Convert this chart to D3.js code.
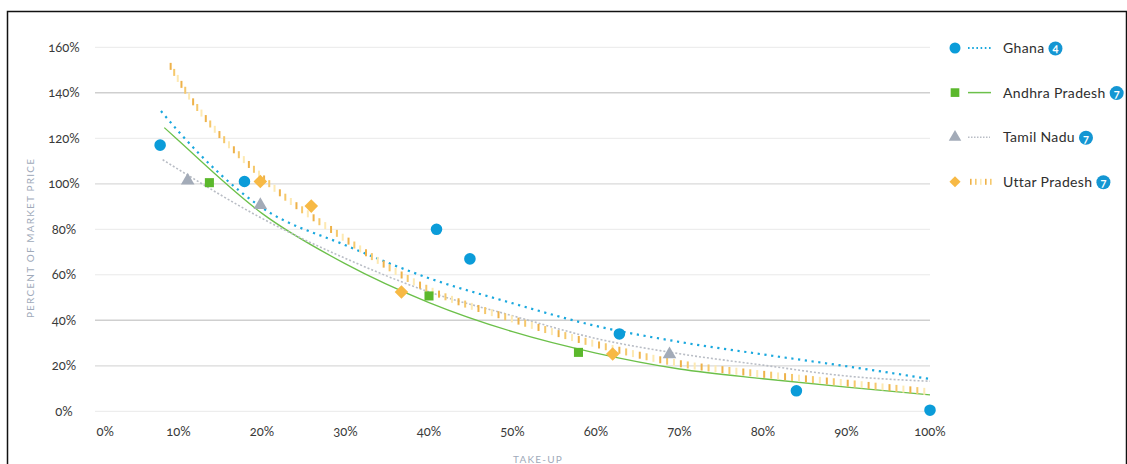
<!DOCTYPE html>
<html><head><meta charset="utf-8">
<script src="https://cdn.jsdelivr.net/npm/d3@7"></script>
<style>
html,body{margin:0;padding:0;background:#fff;}
svg{display:block;font-family:"Lato","Open Sans",sans-serif;font-feature-settings:"onum" 1;}
</style></head>
<body><svg id="c" width="1127" height="464"></svg>
<script>
// ---- data ----
const xTicks = [0,10,20,30,40,50,60,70,80,90,100];
const yTicks = [0,20,40,60,80,100,120,140,160];

const seriesNames = ["Ghana","Andhra Pradesh","Tamil Nadu","Uttar Pradesh"];
const seriesCounts = [4,7,7,7];

const ghanaX = [7.8,17.9,40.9,44.9,62.8,84.0,100];
const ghanaY = [117,101,80,67,34,9,0.5];
const andhraX = [13.7,40.0,57.9];
const andhraY = [100.5,50.7,25.9];
const tamilX = [11.1,19.8,68.8];
const tamilY = [101,90.2,24.6];
const uttarX = [19.8,25.9,36.7,62.0];
const uttarY = [101,90.2,52.4,25.2];

// trend lines
const ghanaTrendX = [7.9,10,20,30,40,50,60,70,80,90,100];
const ghanaTrendY = [132,123,89.5,73,58.5,47.5,37.5,30.5,25,19.8,14.2];
const andhraTrendX = [8.3,10,20,30,40,50,60,70,80,90,100];
const andhraTrendY = [124.7,119,87,64.8,47.8,35,25.6,18.6,14.3,10.6,7.2];
const tamilTrendX = [8.1,10,20,30,40,50,60,70,80,90,100];
const tamilTrendY = [110.6,106.3,84.8,67.2,52.5,42,32,25.3,20.3,15.5,13.2];
const uttarTrendX = [9.0,10,20,30,40,50,60,70,80,90,100];
const uttarTrendY = [152,145.8,103,75.7,53.5,40.5,29.5,21,16.3,12.4,8.5];

// ---- drawing ----
const svg = d3.select("#c");
const x = d3.scaleLinear().domain([0,100]).range([95,930]);
const y = d3.scaleLinear().domain([0,160]).range([411.3,47.3]);

const C = {blue:"#0b9cd9", blueLine:"#1aa8de", green:"#5bb82c", greenLine:"#6cc04a",
           grey:"#a3abb8", greyLine:"#b9bdc5", orange:"#f7b945"};

// frame
svg.append("path").attr("d","M7.5,464 V11.5 H1126.5 V464")
  .attr("fill","none").attr("stroke","#111").attr("stroke-width",1.5);

// gridlines
const gridStyle = v => (v===140||v===40) ? ["#cfcfcf",1.6] : (v===100||v===20) ? ["#dadada",1.3] : ["#e9e9e9",1];
svg.append("g").selectAll("line").data(yTicks).join("line")
  .attr("x1",x(0)).attr("x2",x(100))
  .attr("y1",d=>y(d)).attr("y2",d=>y(d))
  .attr("stroke",d=>gridStyle(d)[0]).attr("stroke-width",d=>gridStyle(d)[1]);

// y tick labels
svg.append("g").selectAll("text").data(yTicks).join("text")
  .attr("x",64).attr("y",d=>y(d)).attr("dy","0.35em")
  .attr("text-anchor","middle").attr("font-size",13).attr("fill","#3a3a3a")
  .text(d=>d+"%");

// x tick labels
svg.append("g").selectAll("text").data(xTicks).join("text")
  .attr("x",d=> d===0 ? x(d)+1.5 : x(d)).attr("y",436)
  .attr("text-anchor",d=> d===0 ? "start" : "middle").attr("font-size",13).attr("fill","#3a3a3a")
  .text(d=>d+"%");

// axis titles
svg.append("text").attr("transform","translate(34,238) rotate(-90)")
  .attr("text-anchor","middle").attr("font-size",10).attr("letter-spacing",1.2)
  .attr("fill","#a0aaba").text("PERCENT OF MARKET PRICE");
svg.append("text").attr("x",538).attr("y",463)
  .attr("text-anchor","middle").attr("font-size",10).attr("letter-spacing",1.2)
  .attr("fill","#a0aaba").text("TAKE-UP");

const line = d3.line().x(d=>x(d[0])).y(d=>y(d[1])).curve(d3.curveMonotoneX);
const zip = (a,b)=>a.map((v,i)=>[v,b[i]]);

const plot = svg.append("g");
// Andhra solid
plot.append("path").attr("d",line(zip(andhraTrendX,andhraTrendY)))
  .attr("fill","none").attr("stroke",C.greenLine).attr("stroke-width",1.3);
// Tamil dashed
plot.append("path").attr("d",line(zip(tamilTrendX,tamilTrendY)))
  .attr("fill","none").attr("stroke",C.greyLine).attr("stroke-width",1.6).attr("stroke-dasharray","2,2");
// Ghana dotted
plot.append("path").attr("d",line(zip(ghanaTrendX,ghanaTrendY)))
  .attr("fill","none").attr("stroke",C.blueLine).attr("stroke-width",2.2).attr("stroke-dasharray","2.2,4.6");
// Uttar vertical bars along path
const up = plot.append("path").attr("d",line(zip(uttarTrendX,uttarTrendY)))
  .attr("fill","none").attr("stroke","none");
const barCols = ["#eeb24a","#f5c86c","#fde9b2"];
const L = up.node().getTotalLength();
const bars = [];
for(let s=1; s<L; s+=7){ const p = up.node().getPointAtLength(s); bars.push([p.x,p.y]); }
plot.append("g").selectAll("rect").data(bars).join("rect")
  .attr("x",d=>d[0]-1).attr("y",d=>d[1]-3.5).attr("width",2).attr("height",7)
  .attr("fill",(d,i)=>barCols[i%3]);

// markers
const sym = (type,size)=>d3.symbol().type(type).size(size)();
const marks = svg.append("g");
marks.selectAll(".g").data(zip(ghanaX,ghanaY)).join("path")
  .attr("transform",d=>`translate(${x(d[0])},${y(d[1])})`).attr("d",sym(d3.symbolCircle,105)).attr("fill",C.blue);
marks.selectAll(".a").data(zip(andhraX,andhraY)).join("path")
  .attr("transform",d=>`translate(${x(d[0])},${y(d[1])})`).attr("d",sym(d3.symbolSquare,82)).attr("fill",C.green);
marks.selectAll(".t").data(zip(tamilX,tamilY)).join("path")
  .attr("transform",d=>`translate(${x(d[0])},${y(d[1])-1})`).attr("d",sym(d3.symbolTriangle,80)).attr("fill",C.grey);
marks.selectAll(".u").data(zip(uttarX,uttarY)).join("path")
  .attr("transform",d=>`translate(${x(d[0])},${y(d[1])}) rotate(45)`).attr("d",sym(d3.symbolSquare,92)).attr("fill",C.orange);

// legend
const lg = svg.append("g");
const ly = i => 48 + i*44.6;
const markerTypes = [[d3.symbolCircle,95,C.blue,0],[d3.symbolSquare,75,C.green,0],[d3.symbolTriangle,68,C.grey,0],[d3.symbolSquare,62,C.orange,45]];
seriesNames.forEach((name,i)=>{
  const g = lg.append("g");
  const m = markerTypes[i];
  g.append("path").attr("transform",`translate(955,${ly(i)}) rotate(${m[3]})`).attr("d",sym(m[0],m[1])).attr("fill",m[2]);
  if(i===0){
    g.append("line").attr("x1",968).attr("x2",991).attr("y1",ly(i)).attr("y2",ly(i))
      .attr("stroke",C.blueLine).attr("stroke-width",1.8).attr("stroke-dasharray","1.6,2.6");
  } else if(i===1){
    g.append("line").attr("x1",968).attr("x2",991).attr("y1",ly(i)).attr("y2",ly(i))
      .attr("stroke",C.greenLine).attr("stroke-width",1.5);
  } else if(i===2){
    g.append("line").attr("x1",968).attr("x2",990).attr("y1",ly(i)).attr("y2",ly(i))
      .attr("stroke",C.greyLine).attr("stroke-width",1.5).attr("stroke-dasharray","1.5,1.5");
  } else {
    g.selectAll("rect").data([0,1,2,3,4]).join("rect")
      .attr("x",d=>970+d*5).attr("y",ly(i)-3).attr("width",1.6).attr("height",6)
      .attr("fill",(d)=>barCols[d%3]);
  }
  const t = g.append("text").attr("x",1003).attr("y",ly(i)).attr("dy","0.35em")
    .attr("font-size",14).attr("fill","#2e2e2e").attr("letter-spacing",0.35).text(name);
  const w = t.node().getComputedTextLength();
  const bx = 1003 + w + 11;
  g.append("circle").attr("cx",bx).attr("cy",ly(i)+0.5).attr("r",7).attr("fill","#1496d3");
  g.append("text").attr("x",bx).attr("y",ly(i)+0.5).attr("dy","0.36em").attr("text-anchor","middle")
    .attr("font-size",11).attr("font-weight","bold").attr("fill","#fff").text(seriesCounts[i]);
});
</script></body></html>
